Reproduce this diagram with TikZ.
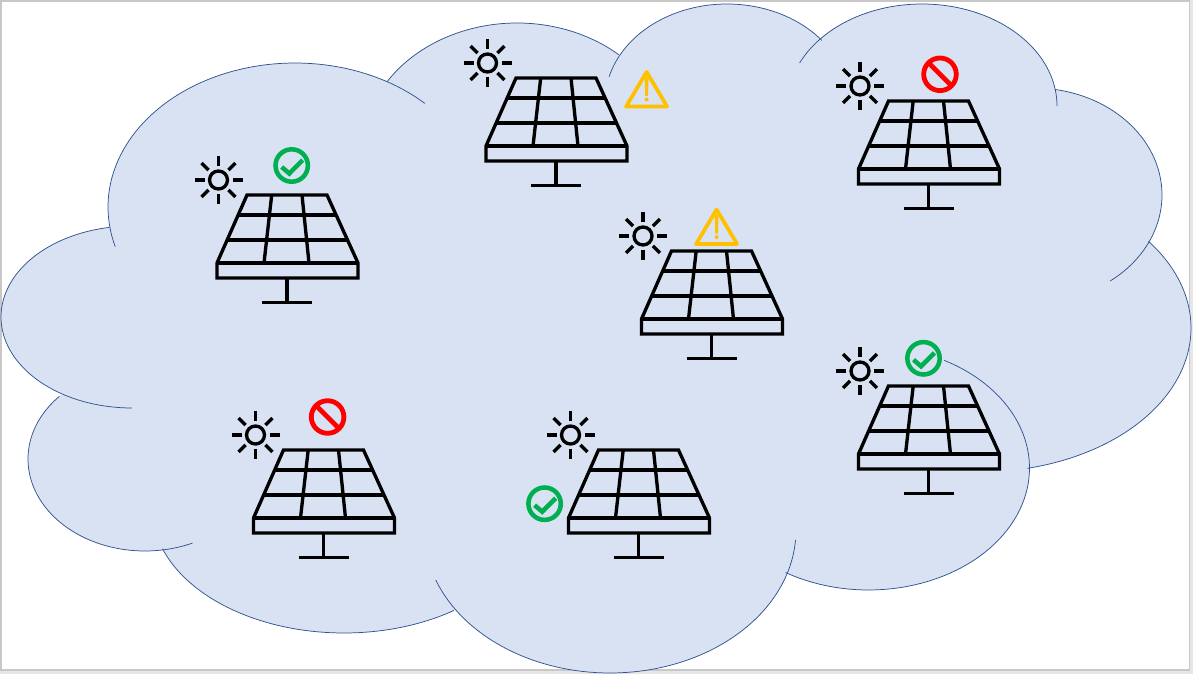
\documentclass[tikz,border=0pt]{standalone}
\definecolor{cloudfill}{HTML}{D9E2F3}
\definecolor{cloudline}{HTML}{2F528F}
\definecolor{okgreen}{HTML}{00B050}
\definecolor{warnyellow}{HTML}{FFC000}
\definecolor{stopred}{HTML}{FF0000}
\definecolor{pageedge}{HTML}{C8C8C8}
\definecolor{outside}{HTML}{E6E6E6}
\newcommand{\lobeplot}[6]{plot[domain=#5:#6,samples=70] ({#1+#3*cos(\x)},{#2+#4*sin(\x)})}
\tikzset{
  panelline/.style={draw=black,line width=2.5pt,line join=miter},
  cloudarc/.style={draw=cloudline,line width=0.55pt},
  solarpanel/.pic={
    \draw[panelline] (30,0) -- (110,0) -- (141,68) -- (141,83) -- (0,83) -- (0,68) -- cycle;
    \draw[panelline] (0,68) -- (141,68);
    \draw[panelline] (21,20) -- (119,20);
    \draw[panelline] (10,45) -- (130,45);
    \draw[panelline] (54.7,0) -- (47,68);
    \draw[panelline] (85,0) -- (92,68);
    \draw[panelline] (70,83) -- (70,107.5);
    \draw[panelline] (45,107.5) -- (95,107.5);
  },
  sunicon/.pic={
    \draw[black,line width=2.5pt] (0,0) circle[radius=9];
    \foreach \a in {0,45,...,315}
      \draw[black,line width=2.5pt] ({14*cos(\a)},{14*sin(\a)}) -- ({24*cos(\a)},{24*sin(\a)});
  },
  checkicon/.pic={
    \draw[okgreen,line width=3.4pt] (0,0) circle[radius=16.2];
    \draw[okgreen,line width=3.4pt,line join=miter] (-10,1.5) -- (-2.4,8) -- (11,-5.5);
  },
  stopicon/.pic={
    \draw[stopred,line width=3.6pt] (0,0) circle[radius=16.3];
    \draw[stopred,line width=3.6pt] (-11.5,-11.5) -- (11.5,11.5);
  },
  warnicon/.pic={
    \draw[warnyellow,line width=2.8pt,line join=round] (0,5) -- (20.5,39.5) -- (-20.5,39.5) -- cycle;
    \fill[warnyellow] (-2,10) -- (2,10) -- (1.3,29) -- (-1.3,29) -- cycle;
    \fill[warnyellow] (0,32.5) circle[radius=2];
  },
}
\begin{document}
\begin{tikzpicture}[x=0.75pt,y=-0.75pt]
\useasboundingbox (0,0) rectangle (1193,674);
\fill[outside] (0,0) rectangle (1193,674);
\draw[fill=white,draw=pageedge,line width=0.9pt] (1,1) rectangle (1189.5,670);
% cloud body
\fill[cloudfill]
  (295,207) -- (517,152) -- (727,102) -- (922,106) -- (1034,195) -- (980,328)
  -- (868,468) -- (610,530) -- (344,508) -- (145,459) -- (132,317) -- cycle;
\fill[cloudfill] (295,207) ellipse[x radius=187,y radius=144];
\fill[cloudfill] (132,317) ellipse[x radius=131,y radius=91];
\fill[cloudfill] (145,459) ellipse[x radius=117,y radius=92];
\fill[cloudfill] (344,508) ellipse[x radius=192,y radius=125];
\fill[cloudfill] (610,530) ellipse[x radius=186,y radius=143];
\fill[cloudfill] (868.5,468) ellipse[x radius=161,y radius=122];
\fill[cloudfill] (980,328) ellipse[x radius=211,y radius=144];
\fill[cloudfill] (1034,195) ellipse[x radius=128,y radius=107];
\fill[cloudfill] (922,106) ellipse[x radius=135,y radius=102];
\fill[cloudfill] (727,102) ellipse[x radius=122,y radius=98];
\fill[cloudfill] (517,152) ellipse[x radius=155,y radius=129];
% cloud outline
\draw[cloudarc] \lobeplot{295}{207}{187}{144}{164}{314};
\draw[cloudarc] \lobeplot{132}{317}{131}{91}{90}{260};
\draw[cloudarc] \lobeplot{145}{459}{117}{92}{66}{223};
\draw[cloudarc] \lobeplot{344}{508}{192}{125}{55}{161};
\draw[cloudarc] \lobeplot{610}{530}{186}{143}{4}{159.5};
\draw[cloudarc] \lobeplot{868.5}{468}{161}{122}{-62}{121};
\draw[cloudarc] \lobeplot{980}{328}{211}{144}{-37}{77};
\draw[cloudarc] \lobeplot{1034}{195}{128}{107}{-80.5}{53.5};
\draw[cloudarc] \lobeplot{922}{106}{135}{102}{205}{360};
\draw[cloudarc] \lobeplot{727}{102}{122}{98}{195}{321};
\draw[cloudarc] \lobeplot{517}{152}{155}{129}{213}{311};
% panels
\pic (p1) at (217,195) {solarpanel};
\pic (p2) at (486,78) {solarpanel};
\pic (p3) at (858.5,101) {solarpanel};
\pic (p4) at (641.5,251) {solarpanel};
\pic (p5) at (858.5,386) {solarpanel};
\pic (p6) at (253.5,450) {solarpanel};
\pic (p7) at (568.5,450) {solarpanel};
% suns
\pic (s1) at (218.5,180) {sunicon};
\pic (s2) at (487.5,63) {sunicon};
\pic (s3) at (860,86) {sunicon};
\pic (s4) at (643,236) {sunicon};
\pic (s5) at (860,371) {sunicon};
\pic (s6) at (255.5,435) {sunicon};
\pic (s7) at (570.5,435) {sunicon};
% status
\pic (c1) at (291.7,165.5) {checkicon};
\pic (c5) at (923.5,358.3) {checkicon};
\pic (c7) at (544.6,503.7) {checkicon};
\pic (x3) at (940,74.3) {stopicon};
\pic (x6) at (327.6,417) {stopicon};
\pic (w2) at (646.6,67) {warnicon};
\pic (w4) at (716.6,204.5) {warnicon};
\end{tikzpicture}
\end{document}
